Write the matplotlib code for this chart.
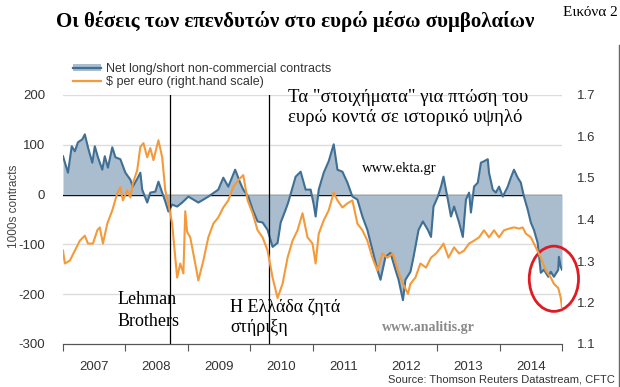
import matplotlib
matplotlib.use("Agg")
import matplotlib.pyplot as plt
from matplotlib.lines import Line2D
from matplotlib.patches import Patch, Ellipse

# net long/short non-commercial contracts (thousands)
net_t = [2007.00, 2007.08, 2007.14, 2007.19, 2007.24, 2007.31, 2007.35, 2007.40, 2007.47, 2007.51,
         2007.56, 2007.63, 2007.67, 2007.72, 2007.79, 2007.84, 2007.92, 2008.00, 2008.08, 2008.12,
         2008.20, 2008.24, 2008.27, 2008.35, 2008.40, 2008.48, 2008.53, 2008.59, 2008.64, 2008.69,
         2008.75, 2008.83, 2008.91, 2009.01, 2009.17, 2009.33, 2009.49, 2009.57, 2009.65, 2009.76,
         2009.84, 2009.89, 2009.97, 2010.04, 2010.12, 2010.20, 2010.28, 2010.36, 2010.44, 2010.49,
         2010.57, 2010.61, 2010.73, 2010.81, 2010.89, 2010.97, 2011.02, 2011.05, 2011.10, 2011.18,
         2011.26, 2011.34, 2011.40, 2011.48, 2011.56, 2011.64, 2011.72, 2011.80, 2011.88, 2011.96,
         2012.04, 2012.09, 2012.17, 2012.25, 2012.33, 2012.38, 2012.45, 2012.49, 2012.57, 2012.62,
         2012.70, 2012.77, 2012.85, 2012.90, 2012.94, 2013.01, 2013.06, 2013.10, 2013.17, 2013.22,
         2013.27, 2013.35, 2013.41, 2013.46, 2013.51, 2013.54, 2013.59, 2013.65, 2013.70, 2013.75,
         2013.81, 2013.83, 2013.89, 2013.94, 2013.99, 2014.05, 2014.13, 2014.18, 2014.23, 2014.29,
         2014.34, 2014.39, 2014.45, 2014.50, 2014.55, 2014.61, 2014.66, 2014.71, 2014.78, 2014.82,
         2014.87, 2014.94, 2014.95, 2014.98, 2015.00]
net_vals = [77, 44, 97, 87, 105, 111, 121, 95, 64, 97,
            75, 50, 77, 54, 95, 75, 71, 44, 30, 16,
            34, 44, 10, -16, 4, 6, 26, 4, -14, -34,
            -20, -24, -16, -4, -16, -4, 10, 34, 16, 50,
            24, 10, -4, -30, -54, -56, -71, -105, -97, -56,
            -30, -16, 36, 46, 10, 10, -20, -44, 10, 44,
            67, 101, 50, 46, 24, -4, -10, -44, -71, -111,
            -151, -171, -125, -117, -151, -171, -212, -171, -155, -125,
            -71, -54, -71, -85, -24, -4, 16, 36, -10, -44,
            -24, -56, -85, -10, 4, -36, 16, 24, 64, 67,
            71, 44, 10, 4, 16, -4, 16, 34, 50, 34,
            24, -4, -30, -56, -71, -97, -157, -151, -165, -155,
            -165, -151, -125, -145, -151]

# $ per euro (right hand scale)
eur_t = [2007.00, 2007.03, 2007.11, 2007.19, 2007.27, 2007.35, 2007.40, 2007.48, 2007.55, 2007.59,
         2007.64, 2007.71, 2007.79, 2007.87, 2007.92, 2007.96, 2008.03, 2008.08, 2008.12, 2008.19,
         2008.24, 2008.29, 2008.35, 2008.40, 2008.45, 2008.53, 2008.59, 2008.64, 2008.69, 2008.75,
         2008.80, 2008.83, 2008.88, 2008.93, 2008.96, 2008.99, 2009.04, 2009.12, 2009.17, 2009.25,
         2009.33, 2009.41, 2009.49, 2009.57, 2009.65, 2009.73, 2009.81, 2009.89, 2009.96, 2010.04,
         2010.12, 2010.20, 2010.28, 2010.36, 2010.44, 2010.52, 2010.60, 2010.68, 2010.76, 2010.84,
         2010.92, 2011.00, 2011.05, 2011.10, 2011.18, 2011.26, 2011.34, 2011.40, 2011.48, 2011.56,
         2011.64, 2011.72, 2011.80, 2011.88, 2011.96, 2012.04, 2012.12, 2012.20, 2012.29, 2012.37,
         2012.45, 2012.53, 2012.57, 2012.65, 2012.73, 2012.82, 2012.90, 2012.98, 2013.06, 2013.10,
         2013.18, 2013.27, 2013.35, 2013.43, 2013.51, 2013.59, 2013.67, 2013.75, 2013.83, 2013.91,
         2013.99, 2014.07, 2014.15, 2014.23, 2014.31, 2014.37, 2014.42, 2014.50, 2014.58, 2014.66,
         2014.74, 2014.82, 2014.87, 2014.94, 2014.98, 2015.00]
eur_vals = [1.325, 1.294, 1.301, 1.325, 1.349, 1.361, 1.342, 1.342, 1.374, 1.381,
            1.342, 1.390, 1.422, 1.463, 1.478, 1.446, 1.470, 1.453, 1.487, 1.519,
            1.575, 1.584, 1.550, 1.572, 1.543, 1.591, 1.550, 1.470, 1.439, 1.390,
            1.308, 1.260, 1.294, 1.270, 1.420, 1.370, 1.357, 1.294, 1.253, 1.301,
            1.357, 1.390, 1.405, 1.429, 1.446, 1.478, 1.495, 1.507, 1.446, 1.415,
            1.374, 1.357, 1.325, 1.260, 1.211, 1.245, 1.308, 1.349, 1.374, 1.415,
            1.357, 1.342, 1.294, 1.366, 1.398, 1.422, 1.465, 1.446, 1.429, 1.439,
            1.446, 1.390, 1.374, 1.349, 1.308, 1.277, 1.318, 1.308, 1.318, 1.277,
            1.245, 1.221, 1.245, 1.260, 1.294, 1.284, 1.308, 1.318, 1.333, 1.342,
            1.308, 1.333, 1.318, 1.325, 1.342, 1.349, 1.357, 1.374, 1.357, 1.374,
            1.357, 1.374, 1.378, 1.381, 1.378, 1.381, 1.366, 1.357, 1.333, 1.308,
            1.277, 1.260, 1.245, 1.235, 1.211, 1.187]

years = [2007, 2008, 2009, 2010, 2011, 2012, 2013, 2014]
left_ticks = [-300, -200, -100, 0, 100, 200]
right_ticks = [1.1, 1.2, 1.3, 1.4, 1.5, 1.6, 1.7]
lehman_t = 2008.72
greece_t = 2010.31

BLUE = '#3f6f94'
FILL = '#a9bdce'
ORANGE = '#f49a3a'
SERIF = ['Liberation Serif', 'DejaVu Serif']
SANS = ['Liberation Sans', 'DejaVu Sans']

W, H = 620, 387
fig = plt.figure(figsize=(W / 100, H / 100), dpi=100, facecolor='white')
ax = fig.add_axes([63 / W, 1 - 344 / H, (562 - 63) / W, (344 - 95) / H])
ax2 = ax.twinx()

ax.set_xlim(2007, 2015)
ax.set_ylim(-300, 200)
ax2.set_ylim(1.1, 1.7)

for v in left_ticks[1:]:
    if v != 0:
        ax.axhline(v, color='#dcdcdc', lw=1, zorder=0)
ax.axhline(0, color='black', lw=1, zorder=1)

ax.fill_between(net_t, net_vals, 0, color=FILL, lw=0, zorder=2)
ax.plot(net_t, net_vals, color=BLUE, lw=1.5, zorder=3)
ax2.plot(eur_t, eur_vals, color=ORANGE, lw=1.5, zorder=4)

for t in (lehman_t, greece_t):
    ax.axvline(t, color='black', lw=0.9, zorder=5)

# x axis: year boundaries as ticks, labels in the middle of each year
ax.set_xticks(years + [2015])
ax.set_xticklabels([])
ax.set_xticks([y + 0.5 for y in years], minor=True)
ax.set_xticklabels([str(y) for y in years], minor=True, fontsize=9.5, color='#333333', family=SANS)
ax.tick_params(axis='x', which='major', direction='out', length=5, color='#555555')
ax.tick_params(axis='x', which='minor', length=0, pad=12)

ax.set_yticks(left_ticks)
ax.set_yticklabels([str(v) for v in left_ticks], fontsize=9.5, color='#333333', family=SANS)
ax.tick_params(axis='y', length=0, pad=13)
ax2.set_yticks(right_ticks)
ax2.set_yticklabels([f"{v:.1f}" for v in right_ticks], fontsize=9.5, color='#333333', family=SANS)
ax2.tick_params(axis='y', length=0, pad=11)

for a in (ax, ax2):
    for side in ('top', 'left', 'right'):
        a.spines[side].set_visible(False)
    a.spines['bottom'].set_color('#555555')

# red circle around the latest drop
ell = Ellipse((2014.87, -169), 0.79, 131, fill=False, edgecolor='#e01a22', lw=2,
              zorder=6, clip_on=False)
ax.add_patch(ell)

# legend
handles = [(Patch(facecolor=FILL, edgecolor='none'), Line2D([], [], color=BLUE, lw=1.6)),
           Line2D([], [], color=ORANGE, lw=1.6)]
fig.legend(handles, ['Net long/short non-commercial contracts', '$ per euro (right.hand scale)'],
           loc='upper left', bbox_to_anchor=(73 / W, 1 - 63 / H), frameon=False,
           prop={'family': SANS, 'size': 9}, handlelength=2.2, handleheight=0.5,
           handletextpad=0.4, labelspacing=0.1, borderpad=0, borderaxespad=0,
           labelcolor='#333333')

# texts
fig.text(295 / W, 1 - 21 / H, 'Οι θέσεις των επενδυτών στο ευρώ μέσω συμβολαίων',
         ha='center', va='center', fontsize=15, fontweight='bold', family=SERIF)
fig.text(563 / W, 1 - 12 / H, 'Εικόνα 2', ha='left', va='center', fontsize=11, family=SERIF)
fig.text(288 / W, 1 - 97 / H, 'Τα "στοιχήματα" για πτώση του', ha='left', va='center',
         fontsize=13.5, family=SERIF)
fig.text(288 / W, 1 - 118 / H, 'ευρώ κοντά σε ιστορικό υψηλό', ha='left', va='center',
         fontsize=13.5, family=SERIF)
fig.text(362 / W, 1 - 169 / H, 'www.ekta.gr', ha='left', va='center', fontsize=10.5, family=SERIF)
fig.text(382 / W, 1 - 327 / H, 'www.analitis.gr', ha='left', va='center', fontsize=10,
         fontweight='bold', color='#8a8a8a', family=SERIF)
fig.text(118 / W, 1 - 300 / H, 'Lehman', ha='left', va='center', fontsize=13, family=SERIF)
fig.text(118 / W, 1 - 322 / H, 'Brothers', ha='left', va='center', fontsize=13, family=SERIF)
fig.text(230 / W, 1 - 307 / H, 'Η Ελλάδα ζητά', ha='left', va='center', fontsize=13, family=SERIF)
fig.text(230 / W, 1 - 328 / H, 'στήριξη', ha='left', va='center', fontsize=13, family=SERIF)
fig.text(14 / W, 1 - 206 / H, '1000s contracts', rotation=90, ha='center', va='center',
         fontsize=8.5, color='#444444', family=SANS)
fig.text(615 / W, 1 - 380 / H, 'Source: Thomson Reuters Datastream, CFTC', ha='right',
         va='center', fontsize=8, color='#333333', family=SANS)

# frame line on the right edge
fig.add_artist(Line2D([618.5 / W, 618.5 / W], [0, 1 - 45 / H], color='#666666', lw=1))

fig.savefig('out.png', dpi=100, facecolor='white')
